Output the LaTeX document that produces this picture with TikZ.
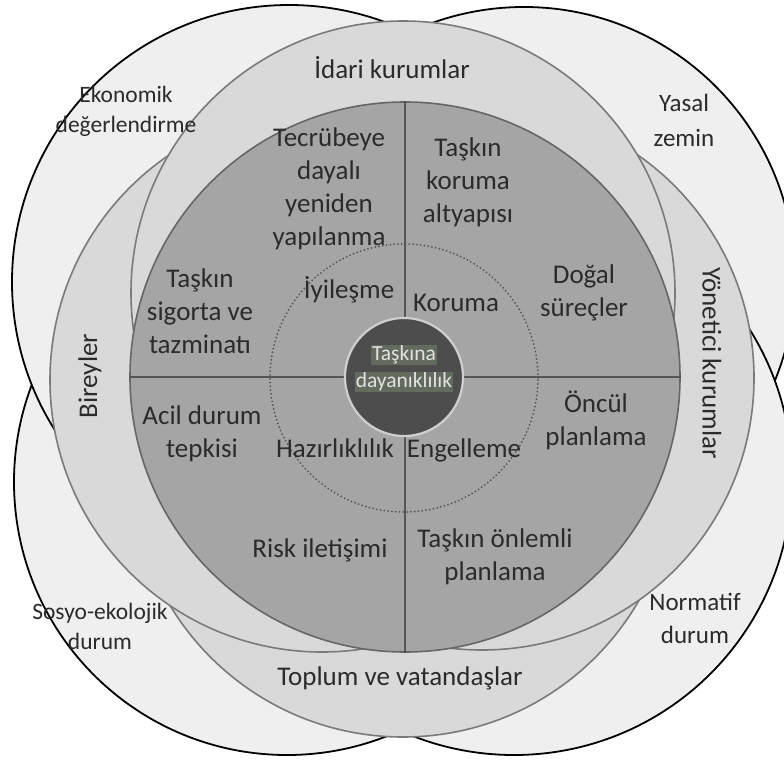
\documentclass[tikz,border=0pt]{standalone}
\usepackage{fontspec}
\setmainfont{Carlito}
\definecolor{outerfill}{HTML}{EFEFEF}
\definecolor{ringfill}{HTML}{D9D9D9}
\definecolor{corefill}{HTML}{A5A5A5}
\definecolor{ringline}{HTML}{7A7A7A}
\definecolor{coreline}{HTML}{666666}
\definecolor{divline}{HTML}{555555}
\definecolor{txt}{HTML}{2B2B2B}
\definecolor{hubfill}{HTML}{4D4D4D}
\definecolor{hubline}{HTML}{CFCFCF}
\definecolor{hubbox}{HTML}{626B5D}
\definecolor{hubtxt}{HTML}{E2E2E2}
\begin{document}
\begin{tikzpicture}[x=1pt,y=-1pt,
  outercirc/.style={fill=outerfill, draw=black, line width=1.8pt},
  ringcirc/.style={fill=ringfill, draw=ringline, line width=1.6pt},
  divider/.style={draw=divline, line width=2pt},
  dotring/.style={draw=divline, line width=2pt, line cap=round, dash pattern=on 0pt off 3.8pt},
  lbl/.style={text=txt, align=center, inner sep=0pt, font=\fontsize{27}{33}\selectfont},
  outerlbl/.style={lbl, font=\fontsize{23.5}{30}\selectfont},
  hublbl/.style={text=hubtxt, fill=hubbox, inner sep=1pt, font=\fontsize{21.5}{26}\selectfont}]
\useasboundingbox (0,0) rectangle (784,760);
\clip (0,0) rectangle (784,760);
\fill[white] (0,0) rectangle (784,760);
% outer circles
\draw[outercirc] (287,482) circle (273pt);
\draw[outercirc] (289,282) circle (277pt);
\draw[outercirc] (524,278) circle (271pt);
\draw[outercirc] (514,477) circle (278pt);
% middle ring circles
\draw[ringcirc] (403,465) circle (272pt);
\draw[ringcirc] (322,380) circle (272pt);
\draw[ringcirc] (482,378) circle (272pt);
\draw[ringcirc] (403,293) circle (272pt);
% core
\node[circle, minimum size=550pt, inner sep=0pt, fill=corefill, draw=coreline, line width=1.6pt] (core) at (405,377) {};
\draw[divider] (core.north) -- (core.south);
\draw[divider] (core.west) -- (core.east);
\draw[dotring] (404,378) circle (134pt);
\node[circle, minimum size=118pt, inner sep=0pt, fill=hubfill, draw=hubline, line width=2.2pt] (hub) at (404,377) {};
\node[hublbl] (hubA) at (404,355) {Taşkına};
\node[hublbl] (hubB) at (404,382) {dayanıklılık};
% ring labels
\node[lbl] (idari) at (392,68) {İdari kurumlar};
\node[lbl, rotate=90] (birey) at (90,376) {Bireyler};
\node[lbl, rotate=-90] (yonetici) at (712,363) {Yönetici kurumlar};
\node[lbl] (toplum) at (400,678) {Toplum ve vatandaşlar};
% outer labels
\node[outerlbl] (ekonomik) at (126,111) {Ekonomik\\değerlendirme};
\node[outerlbl, font=\fontsize{25}{35}\selectfont] (yasal) at (684,120) {Yasal\\zemin};
\node[outerlbl] (sosyo) at (100,626) {Sosyo-ekolojik\\durum};
\node[outerlbl, font=\fontsize{25}{33}\selectfont] (normatif) at (695,618) {Normatif\\durum};
% core labels
\node[lbl] (tecrube) at (329,189) {Tecrübeye\\dayalı\\yeniden\\yapılanma};
\node[lbl] (koruma) at (468,182) {Taşkın\\koruma\\altyapısı};
\node[lbl] (sigorta) at (200,311) {Taşkın\\sigorta ve\\tazminatı};
\node[lbl] (iyiles) at (349,290) {İyileşme};
\node[lbl] (korumaB) at (456,303) {Koruma};
\node[lbl] (dogal) at (584,293) {Doğal\\süreçler};
\node[lbl] (acil) at (202,434) {Acil durum\\tepkisi};
\node[lbl] (hazir) at (335,448) {Hazırlıklılık};
\node[lbl] (engel) at (464,450) {Engelleme};
\node[lbl] (oncul) at (596,420) {Öncül\\planlama};
\node[lbl] (risk) at (320,550) {Risk iletişimi};
\node[lbl] (onlem) at (495,557) {Taşkın önlemli\\planlama};
\end{tikzpicture}
\end{document}
